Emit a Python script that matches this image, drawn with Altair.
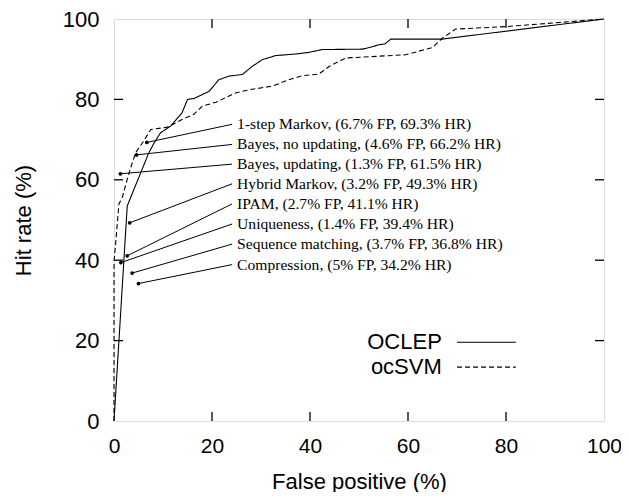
import altair as alt
import pandas as pd

# ---- data -------------------------------------------------------------
oclep_fp = [0, 2.7, 7.1, 8.2, 9.5, 11.6, 13.9, 15.0, 16.3, 19.4, 21.4, 23.5, 26.2, 28.2,
            30.3, 33.0, 37.1, 39.8, 42.5, 50.7, 52.4, 54.1, 55.3, 56.5, 67.0, 100]
oclep_hr = [0, 53.5, 66.7, 69.2, 71.7, 73.4, 76.7, 80.0, 80.2, 82.0, 84.9, 85.8, 86.2, 88.2,
            89.9, 90.9, 91.3, 91.7, 92.4, 92.5, 93.0, 93.6, 93.8, 95.0, 95.0, 100]

svm_fp = [0, 0, 0.4, 1.0, 1.7, 2.7, 3.4, 4.4, 5.8, 7.5, 10.9, 13.9, 16.3, 18.0, 20.8, 24.8,
          27.6, 32.3, 35.7, 38.5, 41.8, 43.9, 47.3, 59.5, 65.0, 67.0, 69.7, 79.9, 100]
svm_hr = [0, 39.5, 45.0, 54.0, 55.6, 60.1, 63.0, 66.7, 69.2, 72.5, 73.1, 75.0, 76.3, 78.3, 79.3,
          81.6, 82.4, 83.3, 84.9, 85.9, 86.3, 88.2, 90.3, 91.1, 92.9, 95.2, 97.5, 98.1, 100]

series_names = ["OCLEP", "ocSVM"]

method_names = ["1-step Markov", "Bayes, no updating", "Bayes, updating", "Hybrid Markov",
                "IPAM", "Uniqueness", "Sequence matching", "Compression"]
method_fp = [6.7, 4.6, 1.3, 3.2, 2.7, 1.4, 3.7, 5]
method_hr = [69.3, 66.2, 61.5, 49.3, 41.1, 39.4, 36.8, 34.2]
label_y = [73.8, 68.8, 63.9, 59.0, 54.0, 49.0, 44.0, 38.9]
label_x = 24.1

tick_values = [20, 40, 60, 80]
axis_values = [0, 20, 40, 60, 80, 100]

# ---- layout constants (data units) -----------------------------------
LEG_TEXT_X = 66.9
LEG_LINE_X1, LEG_LINE_X2 = 70.0, 82.0
LEG_Y0, LEG_STEP = 19.6, 6.2

# ---- tables -----------------------------------------------------------
curves = pd.concat([
    pd.DataFrame({"fp": oclep_fp, "hr": oclep_hr, "series": series_names[0],
                  "order": range(len(oclep_fp))}),
    pd.DataFrame({"fp": svm_fp, "hr": svm_hr, "series": series_names[1],
                  "order": range(len(svm_fp))}),
])

def fmt(v):
    return "%g" % v

methods = pd.DataFrame({
    "name": method_names,
    "fp": method_fp,
    "hr": method_hr,
    "ly": label_y,
    "lx": [label_x] * len(method_names),
})
methods["label"] = [f"{n}, ({fmt(f)}% FP, {fmt(h)}% HR)"
                    for n, f, h in zip(method_names, method_fp, method_hr)]

legend_df = pd.DataFrame({
    "series": series_names,
    "y": [LEG_Y0 - i * LEG_STEP for i in range(len(series_names))],
    "tx": LEG_TEXT_X, "x1": LEG_LINE_X1, "x2": LEG_LINE_X2,
})

ticks = pd.DataFrame({"t": tick_values})

W, H = 490, 402
SANS = "Liberation Sans"
SERIF = "Liberation Serif"

xs = alt.Scale(domain=[0, 100], nice=False, zero=False)
ys = alt.Scale(domain=[0, 100], nice=False, zero=False)
dash_scale = alt.Scale(domain=series_names, range=[[1, 0], [5, 3]])

x_axis = alt.Axis(values=axis_values, grid=False, ticks=False, domain=False,
                  labelFont=SANS, labelFontSize=21, labelColor="black", labelPadding=14,
                  labelFlush=False,
                  title="False positive (%)", titleFont=SANS, titleFontSize=22,
                  titleFontWeight="normal", titleColor="black",
                  titleX=W / 2, titleY=60, titleBaseline="middle", titleAlign="center")
y_axis = alt.Axis(values=axis_values, grid=False, ticks=False, domain=False,
                  labelFont=SANS, labelFontSize=22, labelColor="black", labelPadding=15,
                  labelFlush=False,
                  title="Hit rate (%)", titleFont=SANS, titleFontSize=22,
                  titleFontWeight="normal", titleColor="black",
                  titleX=-91, titleY=H / 2, titleAngle=270, titleBaseline="middle",
                  titleAlign="center")

lines = alt.Chart(curves).mark_line(color="black", strokeWidth=1.1).encode(
    x=alt.X("fp:Q", scale=xs, axis=x_axis),
    y=alt.Y("hr:Q", scale=ys, axis=y_axis),
    order="order:Q",
    strokeDash=alt.StrokeDash("series:N", scale=dash_scale, legend=None),
)

connectors = alt.Chart(methods).mark_rule(color="black", strokeWidth=1).encode(
    x="fp:Q", y="hr:Q", x2="lx:Q", y2="ly:Q",
)
dots = alt.Chart(methods).mark_circle(color="black", size=14, opacity=1).encode(
    x="fp:Q", y="hr:Q",
)
labels = alt.Chart(methods).mark_text(
    align="left", baseline="middle", dx=5, font=SERIF, fontSize=15.6, color="black"
).encode(x="lx:Q", y="ly:Q", text="label:N")

leg_lines = alt.Chart(legend_df).mark_rule(color="black", strokeWidth=1.1).encode(
    x="x1:Q", x2="x2:Q", y="y:Q",
    strokeDash=alt.StrokeDash("series:N", scale=dash_scale, legend=None),
)
leg_text = alt.Chart(legend_df).mark_text(
    align="right", baseline="middle", font=SANS, fontSize=22, color="black"
).encode(x="tx:Q", y="y:Q", text="series:N")

tick_bottom = alt.Chart(ticks).mark_rule(color="black", strokeWidth=1.3).encode(
    x="t:Q", y=alt.value(H), y2=alt.value(H - 9))
tick_top = alt.Chart(ticks).mark_rule(color="black", strokeWidth=1.3).encode(
    x="t:Q", y=alt.value(0), y2=alt.value(9))
tick_left = alt.Chart(ticks).mark_rule(color="black", strokeWidth=1.3).encode(
    y="t:Q", x=alt.value(0), x2=alt.value(9))
tick_right = alt.Chart(ticks).mark_rule(color="black", strokeWidth=1.3).encode(
    y="t:Q", x=alt.value(W), x2=alt.value(W - 9))

chart = alt.layer(
    lines, connectors, dots, labels, leg_lines, leg_text,
    tick_bottom, tick_top, tick_left, tick_right
).properties(
    width=W, height=H,
    autosize=alt.AutoSizeParams(type="none"),
    padding={"left": 106, "top": 11, "right": 17, "bottom": 71},
).configure_view(
    stroke="black", strokeWidth=1.6
).configure(background="white")

chart.save("out.html", embed_options={"renderer": "svg", "actions": False})
